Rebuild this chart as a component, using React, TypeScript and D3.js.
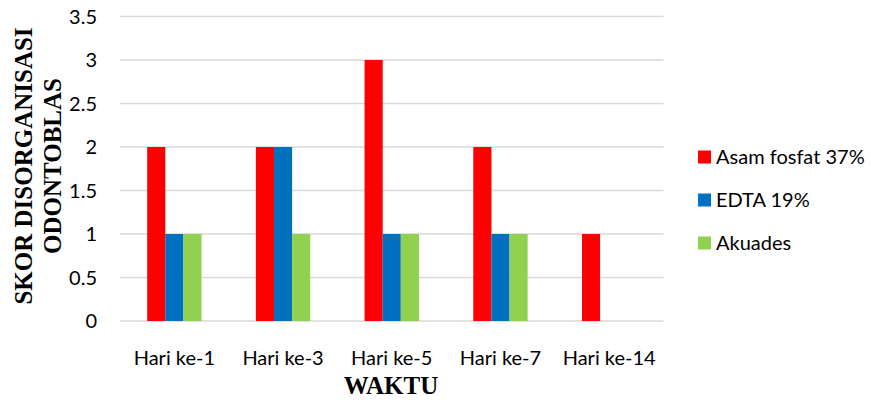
// @ts-nocheck
import React, { useEffect, useRef } from 'react';
import * as d3 from 'd3';

const categories = ['Hari ke-1', 'Hari ke-3', 'Hari ke-5', 'Hari ke-7', 'Hari ke-14'];
const seriesNames = ['Asam fosfat 37%', 'EDTA 19%', 'Akuades'];
const asamFosfat = [2, 2, 3, 2, 1];
const edta = [1, 2, 1, 1, 0];
const akuades = [1, 1, 1, 1, 0];
const yTicks = [0, 0.5, 1, 1.5, 2, 2.5, 3, 3.5];
const colors = ['#FF0000', '#0070C0', '#92D050'];

export default function App() {
  const svgRef = useRef();

  useEffect(() => {
    const w = 871;
    const h = 400;
    const svg = d3.select(svgRef.current);
    svg.selectAll('*').remove();

    const left = 120, right = 663.5, top = 16.5, bottom = 321;
    const tickFont = 'Lato, Carlito, sans-serif';
    const series = [asamFosfat, edta, akuades];

    const x = d3.scaleBand().domain(categories).range([left, right])
      .paddingInner(0.5).paddingOuter(0.25);
    const xs = d3.scaleBand().domain(seriesNames).range([0, x.bandwidth()]);
    const y = d3.scaleLinear().domain([0, 3.5]).range([bottom, top]);

    // gridlines
    svg.append('g')
      .selectAll('line')
      .data(yTicks)
      .join('line')
      .attr('x1', left)
      .attr('x2', right)
      .attr('y1', d => y(d))
      .attr('y2', d => y(d))
      .attr('stroke', '#d9d9d9')
      .attr('stroke-width', 1.5);

    // bars
    series.forEach((vals, si) => {
      svg.append('g')
        .selectAll('rect')
        .data(vals.map((v, i) => ({ cat: categories[i], v })))
        .join('rect')
        .attr('x', d => x(d.cat) + xs(seriesNames[si]))
        .attr('width', xs.bandwidth())
        .attr('y', d => y(d.v))
        .attr('height', d => bottom - y(d.v))
        .attr('fill', colors[si]);
    });

    // y tick labels
    svg.append('g')
      .selectAll('text')
      .data(yTicks)
      .join('text')
      .attr('x', 97)
      .attr('y', d => y(d))
      .attr('dy', '0.35em')
      .attr('text-anchor', 'end')
      .style('font-family', tickFont)
      .style('font-size', '20px')
      .attr('fill', '#000')
      .text(d => d);

    // x tick labels
    svg.append('g')
      .selectAll('text')
      .data(categories)
      .join('text')
      .attr('x', d => x(d) + x.bandwidth() / 2)
      .attr('y', 365)
      .attr('text-anchor', 'middle')
      .style('font-family', tickFont)
      .style('font-size', '20px')
      .attr('fill', '#000')
      .text(d => d);

    // axis titles
    svg.append('text')
      .attr('x', 391)
      .attr('y', 394)
      .attr('text-anchor', 'middle')
      .style('font-family', '"Liberation Serif", "Times New Roman", serif')
      .style('font-weight', 'bold')
      .style('font-size', '25px')
      .text('WAKTU');

    const yTitle = svg.append('text')
      .attr('transform', 'translate(0,166) rotate(-90)')
      .attr('text-anchor', 'middle')
      .style('font-family', '"Liberation Serif", "Times New Roman", serif')
      .style('font-weight', 'bold')
      .style('font-size', '25px');
    yTitle.append('tspan').attr('x', 0).attr('y', 32).text('SKOR DISORGANISASI');
    yTitle.append('tspan').attr('x', 0).attr('y', 61).text('ODONTOBLAS');

    // legend
    const legend = svg.append('g')
      .selectAll('g')
      .data(seriesNames)
      .join('g')
      .attr('transform', (d, i) => `translate(698,${157 + i * 43})`);
    legend.append('rect')
      .attr('x', 0)
      .attr('y', -6.5)
      .attr('width', 13)
      .attr('height', 13)
      .attr('fill', (d, i) => colors[i]);
    legend.append('text')
      .attr('x', 18)
      .attr('y', 0)
      .attr('dy', '0.35em')
      .style('font-family', tickFont)
      .style('font-size', '20px')
      .attr('fill', '#000')
      .text(d => d);

    svg.attr('width', w).attr('height', h);
  }, []);

  return <svg ref={svgRef} style={{ position: 'absolute', left: 0, top: 0 }} />;
}
